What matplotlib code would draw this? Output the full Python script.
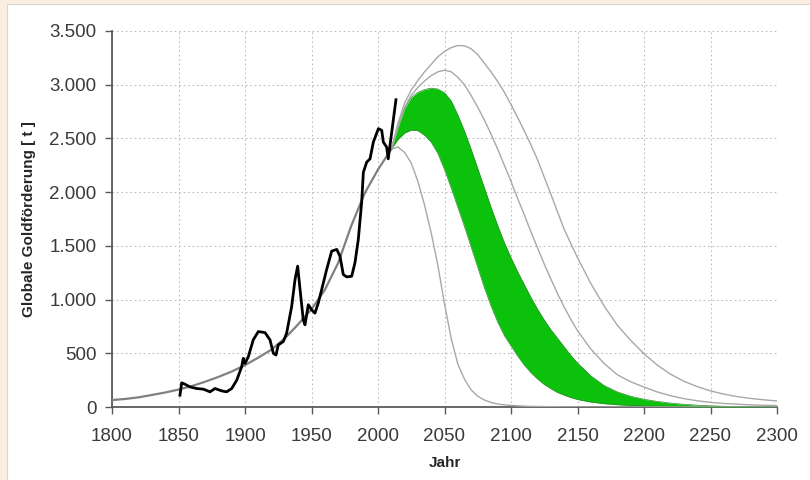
import matplotlib
matplotlib.use("Agg")
import matplotlib.pyplot as plt
from matplotlib.patches import Rectangle
from matplotlib.ticker import FuncFormatter

plt.rcParams["font.family"] = ["Liberation Sans", "DejaVu Sans"]

# ---------------- data ----------------
# historical global gold production [t]
hist_years = [1851.1, 1852.4, 1854.9, 1858.6, 1863.7, 1868.7, 1873.7, 1877.4, 1882.5,
              1886.2, 1890.0, 1893.8, 1897.5, 1898.7, 1900.0, 1902.5, 1906.2, 1910.0,
              1915.0, 1918.8, 1921.3, 1923.3, 1925.0, 1928.8, 1931.3, 1935.1, 1937.6,
              1939.6, 1941.4, 1943.8, 1945.1, 1947.6, 1950.1, 1952.6, 1955.1, 1958.9,
              1961.4, 1965.2, 1969.0, 1971.4, 1973.9, 1976.5, 1980.2, 1982.7, 1985.2,
              1987.7, 1989.0, 1991.5, 1994.0, 1996.5, 2000.3, 2002.8, 2004.0, 2006.5,
              2007.7, 2009.0, 2013.5]
hist_values = [110, 225, 212, 187, 172, 166, 141, 172, 150,
               141, 172, 250, 375, 453, 406, 468, 625, 702,
               693, 625, 500, 484, 578, 609, 687, 936, 1186,
               1311, 1093, 812, 765, 952, 905, 874, 968, 1155,
               1280, 1451, 1467, 1404, 1233, 1211, 1217, 1343, 1561,
               1904, 2185, 2279, 2310, 2466, 2591, 2575, 2466, 2419,
               2310, 2434, 2860]

# fitted curve (past)
fit_years = [1800, 1810, 1820, 1830, 1840, 1850, 1860, 1870, 1880, 1890, 1900,
             1910, 1920, 1930, 1940, 1950, 1960, 1970, 1980, 1990, 2000, 2010]
fit_values = [65, 75, 90, 112, 135, 162, 195, 235, 280, 330, 390,
              460, 535, 640, 770, 910, 1090, 1340, 1690, 1990, 2210, 2400]

# scenario curves (future)
scen_years = [2010, 2015, 2020, 2025, 2030, 2035, 2040, 2045, 2050, 2055, 2060,
              2065, 2070, 2075, 2080, 2085, 2090, 2095, 2100, 2105, 2110, 2115,
              2120, 2125, 2130, 2135, 2140, 2145, 2150, 2160, 2170, 2180, 2190,
              2200, 2210, 2220, 2230, 2240, 2250, 2260, 2270, 2280, 2290, 2300]

scen_low = [2400, 2420, 2370, 2270, 2100, 1880, 1620, 1320, 960, 640, 400,
            260, 160, 100, 65, 42, 28, 20, 15, 11, 8, 6,
            5, 4, 3, 2, 2, 1, 1, 0, 0, 0, 0,
            0, 0, 0, 0, 0, 0, 0, 0, 0, 0, 0]

band_lower = [2400, 2490, 2550, 2578, 2572, 2530, 2465, 2360, 2210, 2040, 1860,
              1680, 1490, 1300, 1110, 940, 790, 665, 570, 475, 390, 320,
              260, 210, 170, 135, 110, 88, 70, 46, 31, 21, 14,
              10, 7, 5, 3, 2, 1, 1, 0, 0, 0, 0]

band_upper = [2400, 2600, 2780, 2880, 2930, 2955, 2968, 2960, 2925, 2850, 2720,
              2570, 2400, 2220, 2040, 1860, 1690, 1530, 1390, 1260, 1140, 1020,
              910, 810, 720, 640, 560, 480, 410, 290, 200, 140, 100,
              72, 52, 36, 25, 17, 11, 7, 5, 3, 2, 1]

scen_mid = [2400, 2620, 2790, 2900, 2975, 3035, 3085, 3120, 3135, 3120, 3070,
            3000, 2900, 2790, 2670, 2540, 2400, 2250, 2100, 1940, 1790, 1630,
            1480, 1330, 1190, 1055, 930, 815, 710, 540, 405, 300, 235,
            185, 140, 105, 78, 58, 43, 33, 26, 20, 16, 13]

scen_high = [2400, 2640, 2830, 2950, 3040, 3120, 3190, 3260, 3310, 3345, 3365,
             3362, 3335, 3280, 3200, 3120, 3030, 2930, 2815, 2695, 2570, 2440,
             2300, 2140, 1980, 1815, 1655, 1520, 1390, 1150, 940, 760, 620,
             495, 390, 305, 240, 190, 150, 120, 97, 80, 67, 56]

x_ticks = [1800, 1850, 1900, 1950, 2000, 2050, 2100, 2150, 2200, 2250, 2300]
y_ticks = [0, 500, 1000, 1500, 2000, 2500, 3000, 3500]
x_label = "Jahr"
y_label = "Globale Goldförderung [ t ]"

# ---------------- figure ----------------
W, H = 810, 480
fig = plt.figure(figsize=(W / 100, H / 100), dpi=100, facecolor="#fdeee2")
panel = Rectangle((7 / W, -0.05), 1.1, 1 - 4 / H + 0.05,
                  transform=fig.transFigure, facecolor="white",
                  edgecolor="#d6d6d6", lw=0.8, zorder=-10)
fig.add_artist(panel)

ax = fig.add_axes([112 / W, 73 / H, 665 / W, 376 / H])
ax.set_zorder(1)
ax.set_facecolor("white")

ax.fill_between(scen_years, band_lower, band_upper, color="#0cc10c", lw=0, zorder=3)
ax.plot(scen_years, band_lower, color="#2c8a2c", lw=0.5, zorder=3.5)
ax.plot(scen_years, band_upper, color="#2c8a2c", lw=0.5, zorder=3.5)

for ys in (scen_low, scen_mid, scen_high):
    ax.plot(scen_years, ys, color="#a8a8a8", lw=1.0, zorder=4)
ax.plot(fit_years, fit_values, color="#808080", lw=1.6, zorder=4)

ax.plot(hist_years, hist_values, color="black", lw=2.0, zorder=5,
        solid_joinstyle="round")

ax.set_xlim(1800, 2300)
ax.set_ylim(0, 3500)
ax.set_xticks(x_ticks)
ax.set_yticks(y_ticks)
ax.yaxis.set_major_formatter(FuncFormatter(lambda v, _: f"{int(v):,}".replace(",", ".")))

ax.grid(True, color="#bdbdbd", lw=0.8, linestyle=(0, (1.5, 2.5)), zorder=1)
ax.set_axisbelow(True)

for s in ("top", "right"):
    ax.spines[s].set_visible(False)
for s in ("left", "bottom"):
    ax.spines[s].set_color("#5a5a5a")
    ax.spines[s].set_linewidth(1.3)

ax.tick_params(axis="both", direction="out", length=5, width=1.0, color="#5a5a5a",
               labelsize=13.5, labelcolor="#3a3a3a")
ax.tick_params(axis="x", pad=10)
ax.tick_params(axis="y", pad=6)

ax.set_xlabel(x_label, fontsize=11, fontweight="bold", color="#262626", labelpad=8)
ax.set_ylabel(y_label, fontsize=11, fontweight="bold", color="#262626", labelpad=10)

fig.savefig("out.png", dpi=100, facecolor=fig.get_facecolor())
